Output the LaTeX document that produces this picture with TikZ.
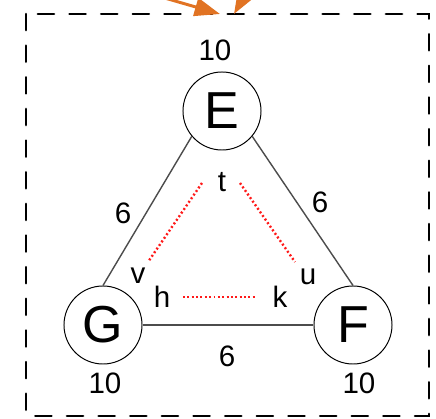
\documentclass[tikz,border=0pt]{standalone}
\usepackage{fontspec}
\setmainfont{Liberation Sans}
\usetikzlibrary{arrows.meta, positioning}

\definecolor{flow}{RGB}{225,115,35}

\begin{document}
\begin{tikzpicture}[x=0.025cm, y=-0.025cm,
    vertex/.style={circle, draw, line width=0.7pt, minimum size=1.95cm, inner sep=0pt, font=\fontsize{37}{37}\selectfont},
    weight/.style={font=\fontsize{21}{21}\selectfont},
    port/.style={font=\fontsize{21}{21}\selectfont, inner sep=1pt},
    edge/.style={draw=black!70, line width=1pt},
    link/.style={red!90!white, line width=1.7pt, dash pattern=on 1.4pt off 1.7pt},
    feed/.style={flow, line width=2.1pt, -{Triangle[length=18pt, width=13pt]}}]
    \clip (0,0) rectangle (436,419);

    % enclosing box
    \draw[line width=1.8pt, line cap=round, dash pattern=on 11.5pt off 11pt] (26,14) rectangle (429,416);

    % incoming arrows
    \coordinate (src1) at (130,-12);
    \coordinate (dst1) at (220,14);
    \coordinate (src2) at (256,-24);
    \coordinate (dst2) at (234,14);
    \draw[feed] (src1) -- (dst1);
    \draw[feed] (src2) -- (dst2);

    % vertices
    \node [vertex] (e) at (222,111) {E};
    \node [vertex] (g) at (103,325) {G};
    \node [vertex] (f) at (353,325) {F};

    \node [weight] (we) at (215,50) {10};
    \node [weight] (wg) at (105,383) {10};
    \node [weight] (wf) at (359,383) {10};

    \draw[edge] (e.220) -- (g.north);
    \draw[edge] (e.320) -- (f.north);
    \draw[edge] (g) -- (f);

    \node [weight] (eg) at (123,213) {6};
    \node [weight] (ef) at (320,202) {6};
    \node [weight] (gf) at (227,356) {6};

    % inner ports
    \node [port] (t) at (222,182) {t};
    \node [port] (u) at (308,277) {u};
    \node [port] (k) at (280,297) {k};
    \node [port] (h) at (162,297) {h};
    \node [port] (v) at (138,276) {v};

    \draw[link] ([shift={(-20,1)}]t.center) -- ([shift={(10,-14)}]v.center);
    \draw[link] ([shift={(18,1)}]t.center) -- ([shift={(-13,-15)}]u.center);
    \draw[link] ([shift={(21,0)}]h.center) -- ([shift={(-25,0)}]k.center);
\end{tikzpicture}
\end{document}
